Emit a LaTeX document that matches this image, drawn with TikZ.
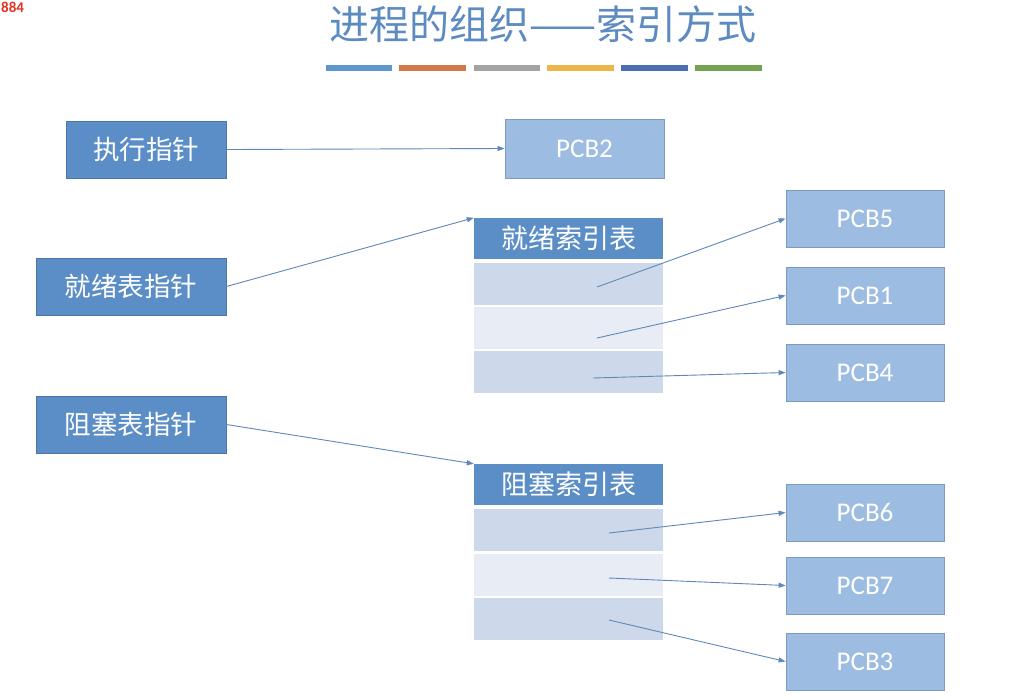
\documentclass[tikz,border=0pt]{standalone}
\usepackage{fontspec}
\newfontfamily\cjk{Noto Sans CJK SC}
\newfontfamily\lat{Carlito}
\usetikzlibrary{arrows.meta}
\definecolor{darkbox}{HTML}{5B8EC7}
\definecolor{darkedge}{HTML}{4A77A8}
\definecolor{pcbfill}{HTML}{9CBCE1}
\definecolor{pcbedge}{HTML}{7B9BC3}
\definecolor{rowA}{HTML}{CDD9EA}
\definecolor{rowB}{HTML}{E7ECF5}
\definecolor{arrowc}{HTML}{5F88B8}
\definecolor{titlec}{HTML}{5B8BC1}
\definecolor{b1}{HTML}{5E97CE}
\definecolor{b2}{HTML}{D27A47}
\definecolor{b3}{HTML}{A3A3A3}
\definecolor{b4}{HTML}{EDB64A}
\definecolor{b5}{HTML}{4A6FB0}
\definecolor{b6}{HTML}{73A350}
\definecolor{numc}{HTML}{E13223}
\tikzset{
  x=1pt,y=-1pt,
  ptrbox/.style={draw=darkedge,fill=darkbox,text=white,font=\cjk\fontsize{26.5}{30}\selectfont,inner sep=0pt,line width=0.8pt},
  pcbbox/.style={draw=pcbedge,fill=pcbfill,text=white,font=\lat\fontsize{27}{30}\selectfont,inner sep=0pt,minimum width=158pt,minimum height=57pt,line width=0.8pt},
  hdrbox/.style={fill=darkbox,text=white,font=\cjk\fontsize{27}{30}\selectfont,inner sep=0pt,minimum width=189pt,minimum height=41pt},
  rowbox/.style={inner sep=0pt,minimum width=189pt,minimum height=42pt},
  link/.style={draw=arrowc,line width=0.9pt,-{Triangle[length=7pt,width=5pt]}},
  bar/.style={line width=5.5pt}
}
\begin{document}
\begin{tikzpicture}
\useasboundingbox[fill=white] (0,0) rectangle (1027,699);
% corner text
\node[anchor=north west,inner sep=0pt,text=numc,font=\lat\bfseries\fontsize{15}{15}\selectfont] (num) at (1,2) {884};
% title
\node[text=titlec,font=\cjk\fontsize{40}{46}\selectfont,inner sep=0pt] (title) at (543,24) {进程的组织——索引方式};
\draw[bar,b1] (326,68) -- (392,68);
\draw[bar,b2] (399,68) -- (466,68);
\draw[bar,b3] (474,68) -- (540,68);
\draw[bar,b4] (547,68) -- (614,68);
\draw[bar,b5] (621,68) -- (688,68);
\draw[bar,b6] (695,68) -- (762,68);
% pointer boxes
\node[ptrbox,minimum width=160pt,minimum height=57pt] (exec) at (146,149.5) {执行指针};
\node[ptrbox,minimum width=190pt,minimum height=57pt] (ready) at (131,286.5) {就绪表指针};
\node[ptrbox,minimum width=190pt,minimum height=57pt] (block) at (131,424.5) {阻塞表指针};
% PCB boxes
\node[pcbbox,minimum width=159pt,minimum height=59pt] (p2) at (584.5,148.5) {PCB2};
\node[pcbbox] (p5) at (865,218.5) {PCB5};
\node[pcbbox] (p1) at (865,295.5) {PCB1};
\node[pcbbox] (p4) at (865,372.5) {PCB4};
\node[pcbbox] (p6) at (865,512.5) {PCB6};
\node[pcbbox] (p7) at (865,585.5) {PCB7};
\node[pcbbox] (p3) at (865,661.5) {PCB3};
% ready index table
\node[hdrbox] (rh) at (568.5,238.5) {就绪索引表};
\node[rowbox,fill=rowA] (r1) at (568.5,284) {};
\node[rowbox,fill=rowB] (r2) at (568.5,328) {};
\node[rowbox,fill=rowA] (r3) at (568.5,372) {};
% block index table
\node[hdrbox] (bh) at (568.5,484.5) {阻塞索引表};
\node[rowbox,fill=rowA] (b1n) at (568.5,530) {};
\node[rowbox,fill=rowB] (b2n) at (568.5,574.5) {};
\node[rowbox,fill=rowA] (b3n) at (568.5,619) {};
% link start points
\coordinate (s1) at (597,287);
\coordinate (s2) at (597,338);
\coordinate (s3) at (593,378);
\coordinate (t1) at (609,533);
\coordinate (t2) at (609,578);
\coordinate (t3) at (609,620);
% arrows
\draw[link] (exec.east) -- (p2.west);
\draw[link] (ready.east) -- (rh.north west);
\draw[link] (block.east) -- (bh.north west);
\draw[link] (s1) -- (p5.west);
\draw[link] (s2) -- (p1.west);
\draw[link] (s3) -- (p4.west);
\draw[link] (t1) -- (p6.west);
\draw[link] (t2) -- (p7.west);
\draw[link] (t3) -- (p3.west);
\end{tikzpicture}
\end{document}
